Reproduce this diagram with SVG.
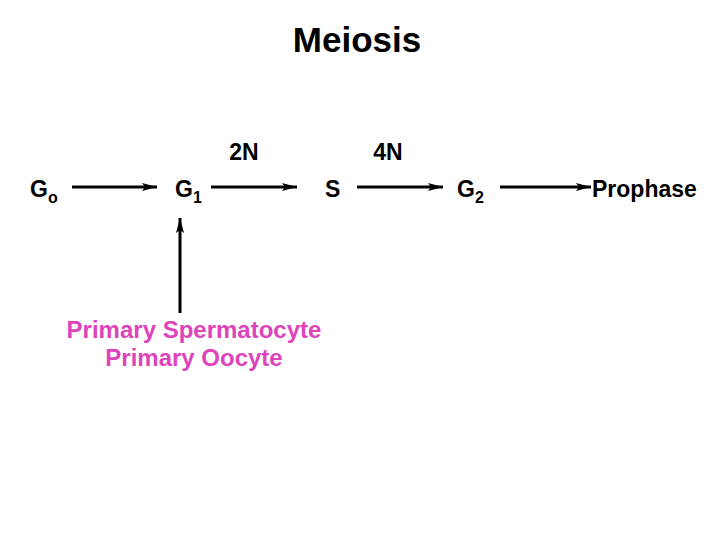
<svg xmlns="http://www.w3.org/2000/svg" width="720" height="540" viewBox="0 0 720 540">
<style>
text{font-family:"Liberation Sans",Arial,sans-serif;fill:#000;font-weight:bold}
.t{font-size:23px}
.sub{font-size:16px}
.pink{fill:#DD44BB;font-size:24px}
.c line{stroke:#000;stroke-width:3}
</style>
<defs>
<marker id="ah" markerUnits="userSpaceOnUse" markerWidth="16" markerHeight="10" refX="15" refY="5" orient="auto">
<path d="M0,1 L15,5 L0,9 L3,5 Z" fill="#000"/>
</marker>
</defs>
<rect width="720" height="540" fill="#fff"/>
<text x="357" y="52" font-size="35" text-anchor="middle">Meiosis</text>
<text x="244" y="160" class="t" text-anchor="middle">2N</text>
<text x="388" y="160" class="t" text-anchor="middle">4N</text>
<g id="G0"><text x="30" y="197" class="t">G<tspan class="sub" dy="6">o</tspan></text></g>
<g id="G1"><text x="175" y="197" class="t">G<tspan class="sub" dy="6">1</tspan></text></g>
<g id="S"><text x="325" y="197" class="t">S</text></g>
<g id="G2"><text x="457" y="197" class="t">G<tspan class="sub" dy="6">2</tspan></text></g>
<g id="Prophase"><text x="592" y="197" class="t">Prophase</text></g>
<g id="Primary"><text x="194" y="338" class="pink" text-anchor="middle">Primary Spermatocyte</text>
<text x="194" y="366" class="pink" text-anchor="middle">Primary Oocyte</text></g>
<g class="c">
<line x1="72" y1="187" x2="157" y2="187" marker-end="url(#ah)"/>
<line x1="211" y1="187" x2="297" y2="187" marker-end="url(#ah)"/>
<line x1="357" y1="187" x2="443" y2="187" marker-end="url(#ah)"/>
<line x1="500" y1="187" x2="591" y2="187" marker-end="url(#ah)"/>
<line x1="180" y1="313" x2="180" y2="218" marker-end="url(#ah)"/>
</g>
</svg>
